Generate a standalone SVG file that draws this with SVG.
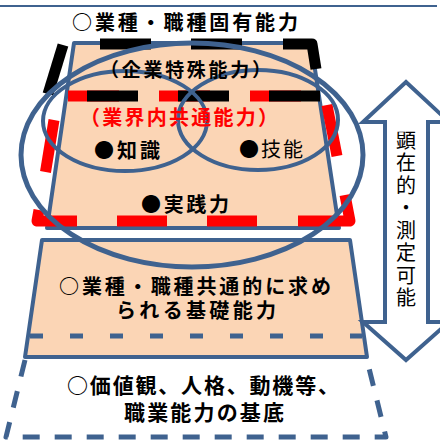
<svg xmlns="http://www.w3.org/2000/svg" width="440" height="441" viewBox="0 0 440 441">
<style>
.blue{fill:none;stroke:#3f628f;stroke-linejoin:round}
.tz{fill:#fbd5b5;stroke:#3f628f;stroke-width:4;stroke-linejoin:round}
.red{fill:none;stroke:#ff0000;stroke-width:11;stroke-linejoin:round}
.blk{fill:none;stroke:#000;stroke-width:11;stroke-linejoin:round}
.t{font-family:"Noto Sans CJK JP","Noto Sans CJK SC",sans-serif;font-size:20px;font-weight:bold;fill:#000}
.r{font-weight:normal}
</style>
<rect width="440" height="441" fill="#fff"/>
<line x1="0" y1="6" x2="437" y2="6" stroke="#3f628f" stroke-width="2"/>
<g id="base">
<path class="tz" d="M42,240 L350,240 L367,357 L25,357 Z"/>
<path class="blue" stroke-width="5" stroke-dasharray="13 27" d="M30,336 H362"/>
<path class="blue" stroke-width="5" stroke-dasharray="17 15" d="M25,360 L6,437 L386,437 L367,360"/>
</g>
<g id="top">
<path class="tz" d="M74,43 L311,43 L339,228 L47,228 Z"/>
</g>
<g id="industry">
<path class="red" stroke-dasharray="51 40" d="M68,96 H301"/>
<path class="red" d="M54,120 L45.5,172"/>
<path class="red" d="M39,210 L37,221 L77,221"/>
<path class="red" stroke-dasharray="50 40" d="M117,221 H258"/>
<path class="red" d="M327,105 L337,156"/>
<path class="red" d="M345,195 L350,221 L298,221"/>
</g>
<g id="company">
<path class="blk" d="M48,94 L63,45"/>
<path class="blk" stroke-dasharray="51 40" d="M100,44 H242"/>
<path class="blk" d="M283,44 H312 L316,69"/>
<path class="blk" stroke-dasharray="51 40" d="M87,96 H320"/>
</g>
<g id="connectors">
<ellipse class="blue" stroke-width="5" cx="192" cy="155" rx="171" ry="112"/>
<ellipse class="blue" stroke-width="4" cx="125" cy="121" rx="82" ry="50"/>
<ellipse class="blue" stroke-width="4" cx="258" cy="120" rx="80" ry="50"/>
</g>
<g id="arrow">
<path d="M406,82 L449,122 L428,122 L428,322 L449,322 L406,360 L363,322 L385,322 L385,122 L363,122 Z" fill="#fff" stroke="#3f628f" stroke-width="4" stroke-linejoin="miter"/>
<text class="t r" x="406" y="130" style="writing-mode:vertical-rl" letter-spacing="2.5">顕在的・測定可能</text>
</g>
<g id="labels">
<text class="t" x="72" y="30" textLength="226">○業種・職種固有能力</text>
<text class="t" x="100" y="77" font-size="19" textLength="171" style="font-size:19px">（企業特殊能力）</text>
<text class="t" x="80" y="125" textLength="198" fill="#ff0000" style="fill:#ff0000">（業界内共通能力）</text>
<text class="t" x="94" y="158" textLength="66">●知識</text>
<text class="t r" x="239" y="157" textLength="64">●技能</text>
<text class="t" x="141" y="212" textLength="88">●実践力</text>
<text class="t" x="59" y="294" textLength="272">○業種・職種共通的に求め</text>
<text class="t" x="116" y="318" textLength="160">られる基礎能力</text>
<text class="t" x="67" y="393" textLength="272" style="font-size:21px">○価値観、人格、動機等、</text>
<text class="t" x="124" y="420" textLength="160" style="font-size:21px">職業能力の基底</text>
</g>
</svg>
